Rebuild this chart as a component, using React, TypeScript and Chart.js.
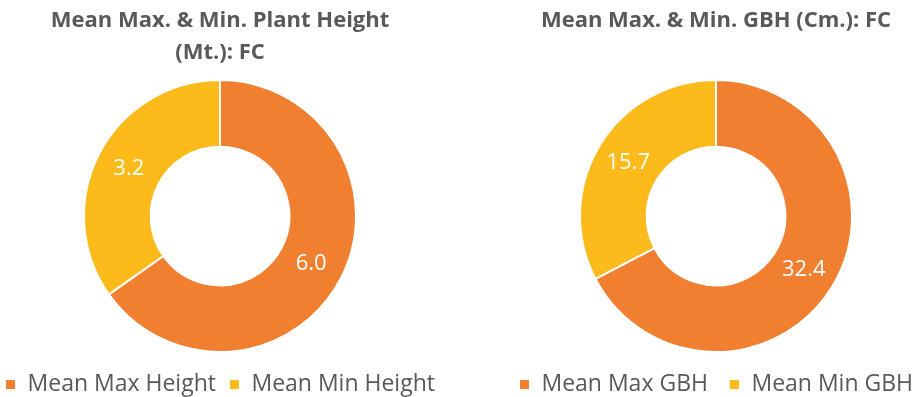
import React, { useEffect, useRef } from "react";
import { Chart, registerables } from "chart.js";

Chart.register(...registerables);

// ---- data ----
const heightLabels = ["Mean Max Height", "Mean Min Height"];
const heightValues = [6.0, 3.2];
const heightTitle = ["Mean Max. & Min. Plant Height", "(Mt.): FC"];

const gbhLabels = ["Mean Max GBH", "Mean Min GBH"];
const gbhValues = [32.4, 15.7];
const gbhTitle = ["Mean Max. & Min. GBH (Cm.): FC"];

const sliceColors = ["#F07F30", "#FCBB1A"];

const FONT = "'Open Sans', 'DejaVu Sans', sans-serif";
const TEXT_GRAY = "#595959";

const valueLabels = {
  id: "valueLabels",
  afterDatasetsDraw(chart: any) {
    const ctx = chart.ctx;
    const meta = chart.getDatasetMeta(0);
    const data = chart.data.datasets[0].data as number[];
    ctx.save();
    ctx.font = `22px ${FONT}`;
    ctx.fillStyle = "#ffffff";
    ctx.textAlign = "center";
    ctx.textBaseline = "middle";
    meta.data.forEach((arc: any, i: number) => {
      const p = arc.tooltipPosition();
      ctx.fillText(Number(data[i]).toFixed(1), p.x, p.y);
    });
    ctx.restore();
  },
};

type DonutProps = {
  left: number;
  width: number;
  height: number;
  labels: string[];
  values: number[];
  title: string[];
  titlePadBottom: number;
  legendPad: number;
};

function Donut(props: DonutProps) {
  const ref = useRef<HTMLCanvasElement | null>(null);
  useEffect(() => {
    if (!ref.current) return;
    const chart = new Chart(ref.current, {
      type: "doughnut",
      data: {
        labels: props.labels,
        datasets: [
          {
            data: props.values,
            backgroundColor: sliceColors,
            borderColor: "#ffffff",
            borderWidth: 2,
            radius: 136,
            cutout: "51%",
          } as any,
        ],
      },
      options: {
        responsive: false,
        animation: false,
        layout: { padding: 0 },
        plugins: {
          title: {
            display: true,
            text: props.title,
            color: TEXT_GRAY,
            font: { family: FONT, size: 22, weight: "bold", lineHeight: 32 / 22 },
            padding: { top: 5, bottom: props.titlePadBottom },
          },
          legend: {
            display: true,
            position: "bottom",
            labels: {
              color: TEXT_GRAY,
              font: { family: FONT, size: 23 },
              boxWidth: 11,
              boxHeight: 11,
              padding: props.legendPad,
            },
          },
          tooltip: { enabled: false },
        },
      } as any,
      plugins: [valueLabels],
    });
    return () => chart.destroy();
  }, []);
  return (
    <canvas
      ref={ref}
      width={props.width}
      height={props.height}
      style={{
        position: "absolute",
        left: props.left,
        top: 0,
        width: props.width,
        height: props.height,
        display: "block",
      }}
    />
  );
}

export default function App() {
  return (
    <div
      style={{
        position: "fixed",
        left: 0,
        top: 0,
        width: 923,
        height: 397,
        overflow: "hidden",
        background: "#ffffff",
      }}
    >
      <Donut
        left={-20}
        width={480}
        height={406}
        labels={heightLabels}
        values={heightValues}
        title={heightTitle}
        titlePadBottom={3}
        legendPad={13}
      />
      <Donut
        left={476}
        width={480}
        height={406}
        labels={gbhLabels}
        values={gbhValues}
        title={gbhTitle}
        titlePadBottom={43}
        legendPad={21}
      />
    </div>
  );
}
